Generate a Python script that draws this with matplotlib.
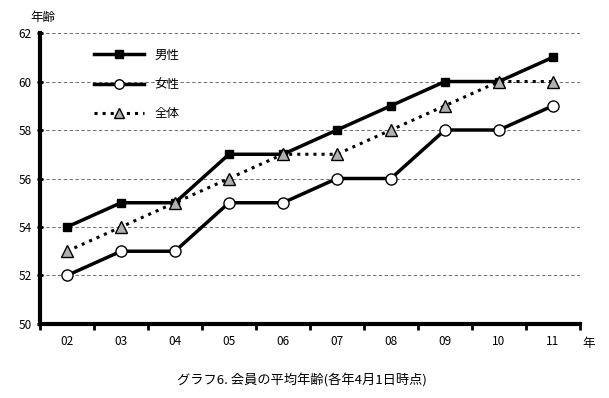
import numpy as np
import matplotlib.pyplot as plt

plt.rcParams['font.family'] = ['Noto Sans CJK JP', 'DejaVu Sans']

years = ['02', '03', '04', '05', '06', '07', '08', '09', '10', '11']
male = [54, 55, 55, 57, 57, 58, 59, 60, 60, 61]
female = [52, 53, 53, 55, 55, 56, 56, 58, 58, 59]
total = [53, 54, 55, 56, 57, 57, 58, 59, 60, 60]
yticks = [50, 52, 54, 56, 58, 60, 62]

fig = plt.figure(figsize=(6.09, 3.98), dpi=100)
ax = fig.add_axes([0.0657, 0.186, 0.8865, 0.731])

x = np.arange(len(years))
ax.plot(x, male, '-', color='black', lw=2.5, marker='s', ms=6,
        mfc='black', mec='black', label='男性', zorder=4)
ax.plot(x, female, '-', color='black', lw=2.5, marker='o', ms=8,
        mfc='white', mec='black', mew=1, label='女性', zorder=4)
ax.plot(x, total, ':', color='black', lw=2.2, marker='^', ms=9,
        mfc='#b0b0b0', mec='black', mew=1, label='全体', zorder=5)

ax.set_xlim(-0.5, len(years) - 0.5)
ax.set_ylim(50, 62)
ax.set_yticks(yticks)
ax.set_yticklabels([str(v) for v in yticks], fontsize=8.5)
ax.yaxis.grid(True, ls=(0, (4, 3)), color='#555555', lw=0.6)
ax.set_axisbelow(True)

# x軸: 目盛りはカテゴリの境界、ラベルは中央
ax.set_xticks(np.arange(len(years) + 1) - 0.5)
ax.set_xticklabels([])
ax.set_xticks(x, minor=True)
ax.set_xticklabels(years, minor=True, fontsize=8.5)
ax.tick_params(axis='x', which='minor', length=0, pad=8)
ax.tick_params(axis='x', which='major', direction='out', length=4, width=2)
ax.tick_params(axis='y', direction='inout', length=5, width=2)

for s in ['top', 'right']:
    ax.spines[s].set_visible(False)
ax.spines['left'].set_linewidth(3)
ax.spines['bottom'].set_linewidth(3)

leg = ax.legend(loc='upper left', bbox_to_anchor=(0.08, 0.985), frameon=False,
                fontsize=9, handlelength=4, labelspacing=1.3, markerscale=0.85)

fig.text(0.05, 0.955, '年齢', fontsize=9, ha='left', va='center')
fig.text(0.957, 0.138, '年', fontsize=9, ha='left', va='center')
fig.text(0.495, 0.045, 'グラフ6. 会員の平均年齢(各年4月1日時点)',
         fontsize=9.5, ha='center', va='center')

fig.savefig('out.png', dpi=100)
